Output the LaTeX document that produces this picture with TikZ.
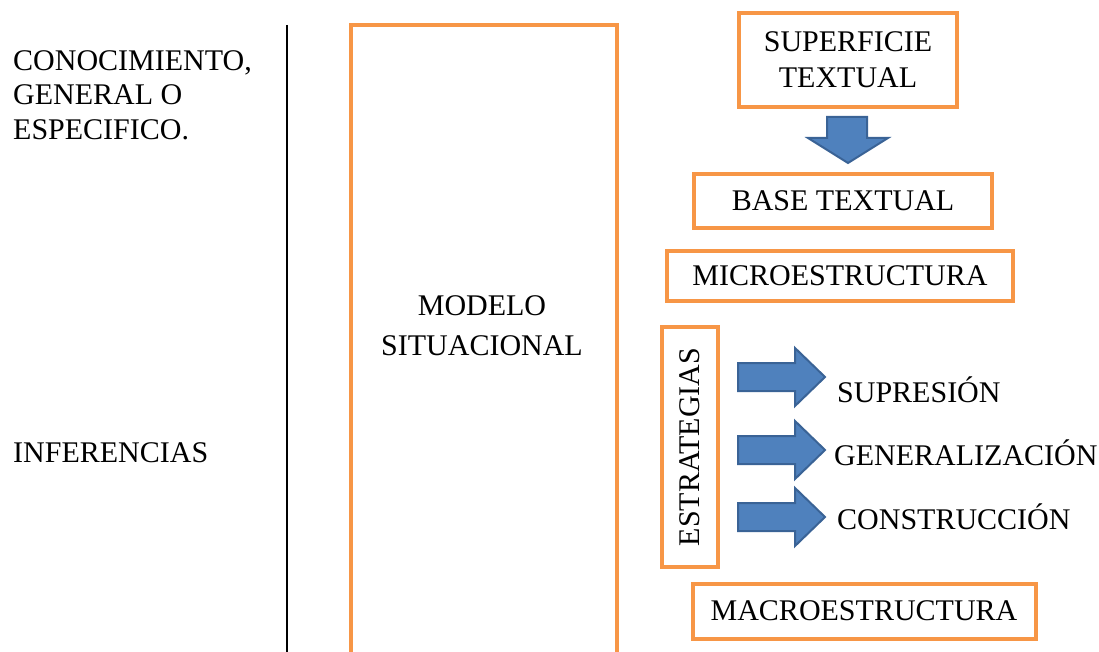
\documentclass[tikz,border=0pt]{standalone}
\usepackage{fontspec}
\setmainfont{Liberation Serif}
\definecolor{orng}{HTML}{F79646}
\definecolor{blu}{HTML}{4F81BD}
\definecolor{bluedge}{HTML}{3A6396}
\begin{document}
\begin{tikzpicture}[x=1pt,y=-1pt,
 box/.style={draw=orng,line width=4pt},
 txt/.style={font=\fontsize{30}{35}\selectfont,inner sep=0pt,align=center},
 blk/.style={fill=blu,draw=bluedge,line width=2pt,line join=miter}]
\useasboundingbox (0,0) rectangle (1099,652);
% left labels
\node[txt,align=left,anchor=west,font=\fontsize{30}{34.5}\selectfont] (con) at (13,95) {CONOCIMIENTO,\\GENERAL O\\ESPECIFICO.};
\node[txt,anchor=west] (inf) at (13,453) {INFERENCIAS};
% separator
\coordinate (lt) at (287,25);
\coordinate (lb) at (287,652);
\draw[line width=1.3pt] (lt) -- (lb);
% situational model (open at bottom)
\draw[box] (351,660) |- (617,25) -- (617,660);
\node[txt,font=\fontsize{30}{40}\selectfont] (mod) at (482,326) {MODELO\\SITUACIONAL};
% right column
\node[box,txt,minimum width=218pt,minimum height=94pt,font=\fontsize{30}{36}\selectfont] (sup) at (848,60) {SUPERFICIE\\TEXTUAL};
\node[box,txt,minimum width=298pt,minimum height=54pt] (base) at (843,201) {BASE TEXTUAL};
\node[box,txt,minimum width=346pt,minimum height=50pt] (micro) at (840,276) {MICROESTRUCTURA};
\node[box,txt,minimum width=56pt,minimum height=240pt] (est) at (690,447) {};
\node[txt,rotate=90] (estt) at (690,447) {ESTRATEGIAS};
\node[box,txt,minimum width=343pt,minimum height=55pt] (macro) at (864,611) {MACROESTRUCTURA};
% down arrow
\draw[blk] (827,117) -- (867,117) -- (867,138) -- (888,138) -- (848,163) -- (808,138) -- (827,138) -- cycle;
% strategy arrows
\foreach \y in {377,450,517}{
  \draw[blk] (738,\y-14) -- (795,\y-14) -- (795,\y-29) -- (825,\y) -- (795,\y+29) -- (795,\y+14) -- (738,\y+14) -- cycle;
}
\node[txt,anchor=west] (sup1) at (837,390) {SUPRESIÓN};
\node[txt,anchor=west] (gen) at (834,453) {GENERALIZACIÓN};
\node[txt,anchor=west] (cons) at (837,517) {CONSTRUCCIÓN};
\end{tikzpicture}
\end{document}
